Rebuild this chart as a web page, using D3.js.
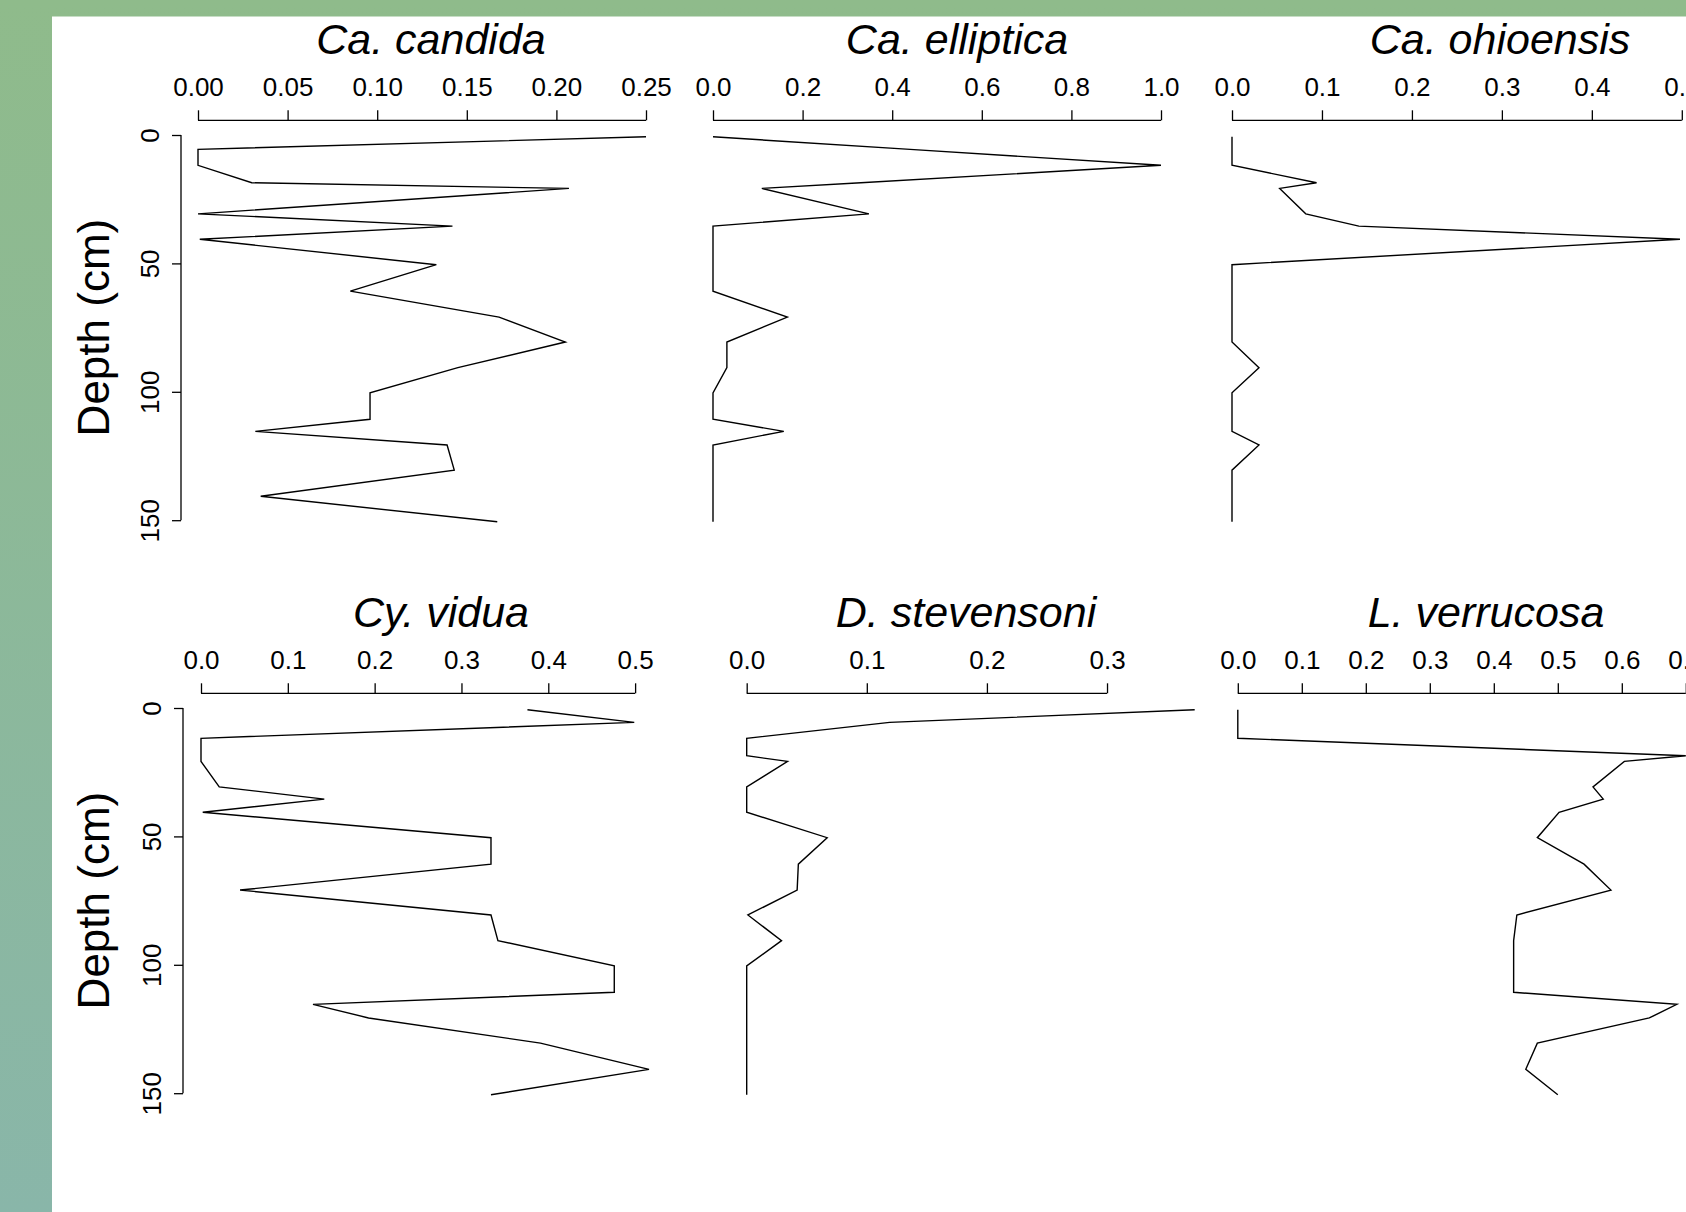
<!DOCTYPE html>
<html>
<head>
<meta charset="utf-8">
<script src="https://cdn.jsdelivr.net/npm/d3@7"></script>
<style>
  body { margin: 0; background: #fff; }
  svg { display: block; }
  text { font-family: "Liberation Sans", Arial, sans-serif; fill: #000; }
</style>
</head>
<body>
<div id="container"></div>
<script>
// sample depths (cm), shared by all taxa
const depths = [0.7, 5.6, 11.8, 18.6, 20.8, 30.7, 35.5, 40.6, 50.5, 60.8, 70.9, 80.6, 90.6, 100.4, 110.7, 115.4, 120.7, 130.5, 140.7, 150.6];

// relative abundance per taxon
const caCandida   = [0.25, 0, 0, 0.030, 0.207, 0, 0.142, 0.001, 0.133, 0.085, 0.168, 0.205, 0.145, 0.096, 0.096, 0.032, 0.139, 0.143, 0.035, 0.167];
const caElliptica = [0, 0.44, 1.0, 0.33, 0.109, 0.348, 0, 0, 0, 0, 0.166, 0.031, 0.031, 0, 0, 0.158, 0, 0, 0, 0];
const caOhioensis = [0, 0, 0, 0.094, 0.053, 0.082, 0.141, 0.498, 0, 0, 0, 0, 0.03, 0, 0, 0, 0.03, 0, 0, 0];
const cyVidua     = [0.376, 0.499, 0, 0, 0, 0.021, 0.142, 0.002, 0.334, 0.334, 0.045, 0.334, 0.342, 0.476, 0.476, 0.129, 0.193, 0.391, 0.516, 0.334];
const dStevensoni = [0.373, 0.119, 0, 0, 0.034, 0, 0, 0, 0.067, 0.043, 0.042, 0.001, 0.029, 0, 0, 0, 0, 0, 0, 0];
const lVerrucosa  = [0, 0, 0, 0.70, 0.604, 0.555, 0.571, 0.502, 0.468, 0.541, 0.583, 0.436, 0.431, 0.431, 0.431, 0.686, 0.643, 0.468, 0.45, 0.5];

const taxa = ["Ca. candida", "Ca. elliptica", "Ca. ohioensis", "Cy. vidua", "D. stevensoni", "L. verrucosa"];

// tick values
const candidaTicks    = [0, 0.05, 0.10, 0.15, 0.20, 0.25];
const ellipticaTicks  = [0, 0.2, 0.4, 0.6, 0.8, 1.0];
const ohioensisTicks  = [0, 0.1, 0.2, 0.3, 0.4, 0.5];
const viduaTicks      = [0, 0.1, 0.2, 0.3, 0.4, 0.5];
const stevensoniTicks = [0, 0.1, 0.2, 0.3];
const verrucosaTicks  = [0, 0.1, 0.2, 0.3, 0.4, 0.5, 0.6, 0.7];
const depthTicks      = [0, 50, 100, 150];

const width = 1686;
const height = 1212;
const plotW = 448;
const rowOffset = [0, 573];

// layout of each panel (left edge of plot region, title centre)
const panels = [
    { name: taxa[0], values: caCandida,   ticks: candidaTicks,    fmt: ".2f", x0: 198,   row: 0, titleX: 431,  yAxisX: 181 },
    { name: taxa[1], values: caElliptica, ticks: ellipticaTicks,  fmt: ".1f", x0: 713,   row: 0, titleX: 957 },
    { name: taxa[2], values: caOhioensis, ticks: ohioensisTicks,  fmt: ".1f", x0: 1232,  row: 0, titleX: 1500 },
    { name: taxa[3], values: cyVidua,     ticks: viduaTicks,      fmt: ".1f", x0: 201,   row: 1, titleX: 441,  yAxisX: 183 },
    { name: taxa[4], values: dStevensoni, ticks: stevensoniTicks, fmt: ".1f", x0: 746.7, row: 1, titleX: 966 },
    { name: taxa[5], values: lVerrucosa,  ticks: verrucosaTicks,  fmt: ".1f", x0: 1237.8,row: 1, titleX: 1486 }
];

const svg = d3.create("svg")
    .attr("width", width)
    .attr("height", height)
    .attr("viewBox", [0, 0, width, height]);

/* ------------------ FRAME ------------------ */
const grad = svg.append("defs").append("linearGradient")
    .attr("id", "frameGrad")
    .attr("x1", 0).attr("y1", 0).attr("x2", 0).attr("y2", 1);
grad.append("stop").attr("offset", "0%").attr("stop-color", "#8fbb8b");
grad.append("stop").attr("offset", "100%").attr("stop-color", "#89b6a9");

svg.append("rect")
    .attr("width", width)
    .attr("height", height)
    .attr("fill", "url(#frameGrad)");

svg.append("rect")
    .attr("x", 52)
    .attr("y", 16.5)
    .attr("width", width - 52)
    .attr("height", height - 16.5)
    .attr("fill", "#fff");

/* ------------------ PANELS ------------------ */
panels.forEach(p => {
    const dy = rowOffset[p.row];
    const axisY = 120.3 + dy;

    const x = d3.scaleLinear()
        .domain([0, d3.max(p.values)])
        .range([p.x0, p.x0 + plotW]);

    const y = d3.scaleLinear()
        .domain([0, 150])
        .range([135 + dy, 520.2 + dy]);

    const g = svg.append("g");

    // top axis, line only between first and last tick (R style)
    const xAxis = g.append("g")
        .attr("transform", `translate(0,${axisY})`)
        .call(d3.axisTop(x)
            .tickValues(p.ticks)
            .tickFormat(d3.format(p.fmt))
            .tickSize(10)
            .tickPadding(14));
    xAxis.select(".domain").remove();
    xAxis.selectAll(".tick line").attr("stroke", "#000").attr("stroke-width", 1.3);
    xAxis.selectAll(".tick text")
        .attr("dy", 0)
        .attr("font-size", 26)
        .attr("font-family", "Liberation Sans, Arial, sans-serif")
        .attr("fill", "#000");
    xAxis.append("line")
        .attr("x1", x(p.ticks[0]))
        .attr("x2", x(p.ticks[p.ticks.length - 1]))
        .attr("stroke", "#000")
        .attr("stroke-width", 1.3);

    // depth axis on the left-hand panels
    if (p.yAxisX != null) {
        const yAxis = g.append("g")
            .attr("transform", `translate(${p.yAxisX},0)`)
            .call(d3.axisLeft(y).tickValues(depthTicks).tickSize(9));
        yAxis.select(".domain").remove();
        yAxis.selectAll(".tick line").attr("stroke", "#000").attr("stroke-width", 1.3);
        yAxis.selectAll(".tick text")
            .attr("transform", "rotate(-90)")
            .attr("x", 0)
            .attr("y", -22)
            .attr("dy", 0)
            .attr("text-anchor", "middle")
            .attr("font-size", 26)
            .attr("font-family", "Liberation Sans, Arial, sans-serif")
            .attr("fill", "#000");
        yAxis.append("line")
            .attr("y1", y(depthTicks[0]))
            .attr("y2", y(depthTicks[depthTicks.length - 1]))
            .attr("stroke", "#000")
            .attr("stroke-width", 1.3);

        g.append("text")
            .attr("transform", `translate(109,${(y(0) + y(150)) / 2}) rotate(-90)`)
            .attr("text-anchor", "middle")
            .attr("font-size", 44)
            .text("Depth (cm)");
    }

    // title
    g.append("text")
        .attr("x", p.titleX)
        .attr("y", 53.5 + dy)
        .attr("text-anchor", "middle")
        .attr("font-size", 43)
        .attr("font-style", "italic")
        .text(p.name);

    // profile line
    const line = d3.line()
        .x(d => x(d[1]))
        .y(d => y(d[0]));

    g.append("path")
        .datum(d3.zip(depths, p.values))
        .attr("fill", "none")
        .attr("stroke", "#000")
        .attr("stroke-width", 1.4)
        .attr("stroke-linejoin", "miter")
        .attr("d", line);
});

document.getElementById("container").append(svg.node());
</script>
</body>
</html>
